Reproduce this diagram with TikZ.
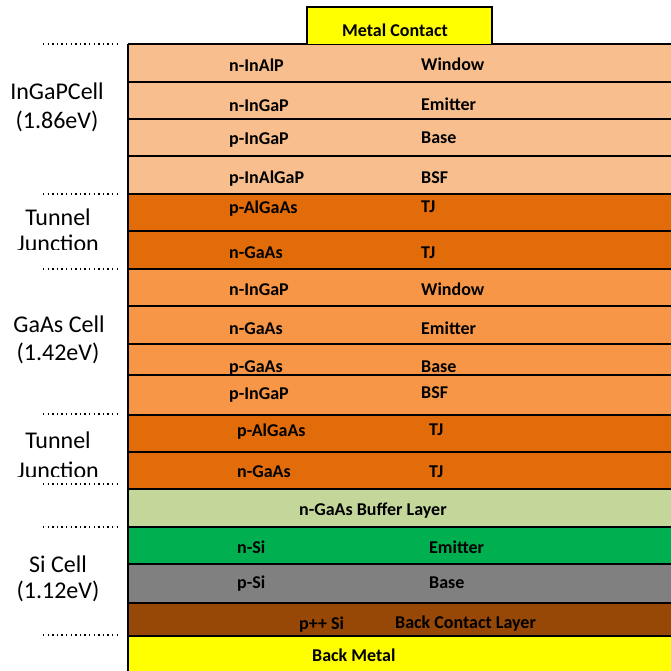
\documentclass[tikz,border=0pt]{standalone}
\usepackage{fontspec}
\setmainfont{Carlito}
\definecolor{ingapcol}{HTML}{F8BE8E}
\definecolor{tjcol}{HTML}{E26B0A}
\definecolor{gaascol}{HTML}{F79646}
\definecolor{buffcol}{HTML}{C4D79B}
\definecolor{nsicol}{HTML}{00B050}
\definecolor{psicol}{HTML}{808080}
\definecolor{ppcol}{HTML}{974706}
\definecolor{metalcol}{HTML}{FFFF00}
\begin{document}
\begin{tikzpicture}[x=1pt,y=-1pt,
  lyr/.style={font=\bfseries\fontsize{18}{20}\selectfont,anchor=base west,inner sep=0pt},
  cell/.style={font=\fontsize{24}{28}\selectfont,anchor=base,inner sep=0pt},
  sep/.style={line width=1.3pt,dash pattern=on 1.3pt off 3.3pt}]
\useasboundingbox (0,0) rectangle (671,671);

% layer stack
\foreach \ya/\yb/\col in {44/82/ingapcol,82/119/ingapcol,119/156/ingapcol,156/194/ingapcol,
    194/231/tjcol,231/269/tjcol,269/306/gaascol,306/344/gaascol,344/375/gaascol,375/415/gaascol,
    415/452/tjcol,452/489/tjcol,489/527/buffcol,527/564/nsicol,564/603/psicol,603/636/ppcol,
    636/671/metalcol}
  \fill[\col] (128,\ya) rectangle (671,\yb);
\foreach \y in {44,82,119,156,194,231,269,306,344,375,415,452,489,527,564,603,636}
  \draw[line width=1.6pt] (128,\y) -- (671,\y);
\draw[line width=1.6pt] (128,44) -- (128,671);
\draw[line width=1.6pt,fill=metalcol] (307,44) -- (307,7) -- (492,7) -- (492,44);

% dotted markers
\foreach \y in {44,194,269,414,484,527,635}
  \draw[sep] (43,\y) -- (117,\y);

% cell names
\node[cell] (c1a) at (57,100) {InGaPCell};
\node[cell] (c1b) at (57,129) {(1.86eV)};
\node[cell] (t1a) at (58,225) {Tunnel};
\begin{scope}
  \clip (0,230) rectangle (128,249);
  \node[cell] (t1b) at (58,251) {Junction};
\end{scope}
\node[cell] (c2a) at (59,332) {GaAs Cell};
\node[cell] (c2b) at (58,360) {(1.42eV)};
\node[cell] (t2a) at (58,448) {Tunnel};
\begin{scope}
  \clip (0,455) rectangle (128,476);
  \node[cell] (t2b) at (58,478) {Junction};
\end{scope}
\node[cell] (c3a) at (58,572) {Si Cell};
\node[cell] (c3b) at (58,598) {(1.12eV)};

% layer names
\node[lyr] (mc) at (342,37) {Metal Contact};
\node[lyr] (l1) at (229,72) {n-InAlP};
\node[lyr] (r1) at (421,71) {Window};
\node[lyr] (l2) at (229,112) {n-InGaP};
\node[lyr] (r2) at (421,111) {Emitter};
\node[lyr] (l3) at (229,145) {p-InGaP};
\node[lyr] (r3) at (421,144) {Base};
\node[lyr] (l4) at (229,183) {p-InAlGaP};
\node[lyr] (r4) at (421,183) {BSF};
\node[lyr] (l5) at (229,213) {p-AlGaAs};
\node[lyr] (r5) at (421,212) {TJ};
\node[lyr] (l6) at (229,258) {n-GaAs};
\node[lyr] (r6) at (421,258) {TJ};
\node[lyr] (l7) at (229,295) {n-InGaP};
\node[lyr] (r7) at (421,295) {Window};
\node[lyr] (l8) at (229,334) {n-GaAs};
\node[lyr] (r8) at (421,334) {Emitter};
\node[lyr] (l9) at (229,372) {p-GaAs};
\node[lyr] (r9) at (421,372) {Base};
\node[lyr] (l10) at (229,399) {p-InGaP};
\node[lyr] (r10) at (421,398) {BSF};
\node[lyr] (l11) at (237,436) {p-AlGaAs};
\node[lyr] (r11) at (429,435) {TJ};
\node[lyr] (l12) at (237,477) {n-GaAs};
\node[lyr] (r12) at (429,477) {TJ};
\node[lyr] (buf) at (299,515) {n-GaAs Buffer Layer};
\node[lyr] (l13) at (237,553) {n-Si};
\node[lyr] (r13) at (429,553) {Emitter};
\node[lyr] (l14) at (237,588) {p-Si};
\node[lyr] (r14) at (429,588) {Base};
\node[lyr] (l15) at (299,629) {p++ Si};
\node[lyr] (r15) at (395,628) {Back Contact Layer};
\node[lyr] (bm) at (312,661) {Back Metal};
\end{tikzpicture}
\end{document}
